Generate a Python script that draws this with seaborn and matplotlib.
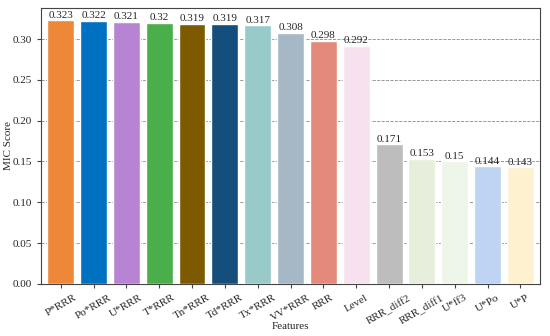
import matplotlib
matplotlib.use("Agg")
import matplotlib.pyplot as plt
import seaborn as sns
import pandas as pd

features = ["P*RRR", "Po*RRR", "U*RRR", "T*RRR", "Tn*RRR", "Td*RRR", "Tx*RRR",
            "VV*RRR", "RRR", "Level", "RRR_diff2", "RRR_diff1", "U*ff3", "U*Po", "U*P"]
scores = [0.323, 0.322, 0.321, 0.32, 0.319, 0.319, 0.317, 0.308, 0.298, 0.292,
          0.171, 0.153, 0.15, 0.144, 0.143]
colors = ["#EE8838", "#0070C0", "#B784D4", "#4AAE4A", "#7D5A00", "#144E7C", "#98CACA",
          "#A6B8C6", "#E48A7B", "#F7E1EE", "#BDBDBD", "#E7EFDC", "#EEF6EA", "#BED4F2", "#FDF1CF"]

sns.set_style("ticks")
plt.rcParams['font.family'] = ['Liberation Serif', 'DejaVu Serif']

df = pd.DataFrame({"Features": features, "MIC Score": scores})

fig = plt.figure(figsize=(5.5, 3.36), dpi=100)
ax = fig.add_axes([0.0745, 0.155, 0.9075, 0.821])
sns.barplot(data=df, x="Features", y="MIC Score", hue="Features", palette=colors,
            legend=False, width=0.82, saturation=1, ax=ax, zorder=3)

for cont, v in zip(ax.containers, scores):
    ax.bar_label(cont, labels=[str(v)], fontsize=8, padding=0.5)

ax.set_ylim(0, 0.338)
ax.set_xlim(-0.6, 14.6)
ax.yaxis.grid(True, linestyle="--", color="#888888", linewidth=0.6, zorder=0)
ax.set_axisbelow(True)
ax.set_yticks([0, 0.05, 0.10, 0.15, 0.20, 0.25, 0.30])
ax.set_yticklabels(["0.00", "0.05", "0.10", "0.15", "0.20", "0.25", "0.30"])
ax.tick_params(axis="both", labelsize=8, length=3, color="#444444")
plt.setp(ax.get_xticklabels(), rotation=30)
ax.set_xlabel("Features", fontsize=8)
ax.set_ylabel("MIC Score", fontsize=8)
ax.xaxis.set_label_coords(0.5, -0.138)
ax.yaxis.set_label_coords(-0.056, 0.5)
for s in ax.spines.values():
    s.set_visible(True)
    s.set_color("#444444")
    s.set_linewidth(0.8)

fig.savefig("out.png", dpi=100)
